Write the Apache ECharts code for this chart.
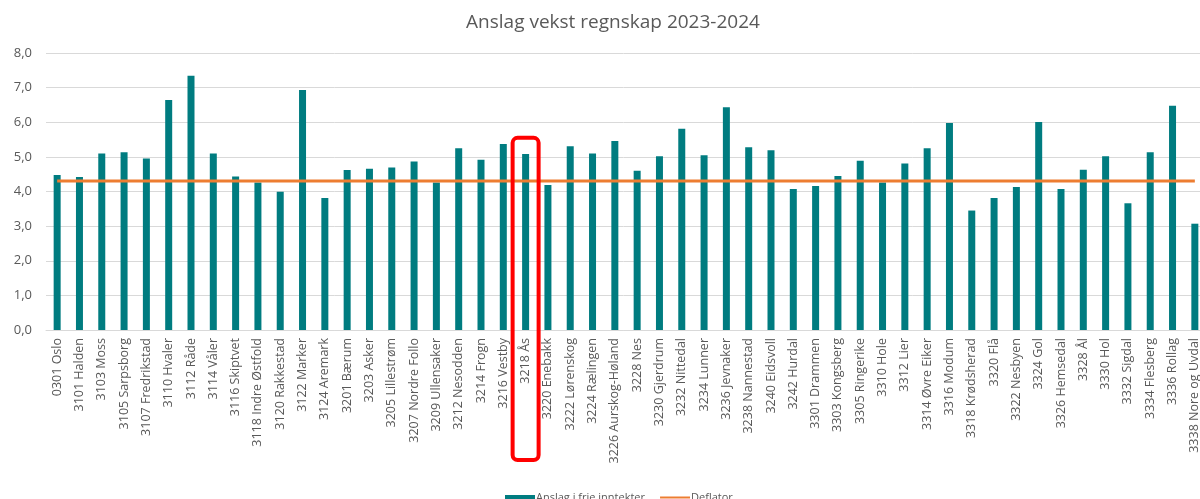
<!DOCTYPE html>
<html>
<head>
<meta charset="utf-8">
<style>
  html, body { margin: 0; padding: 0; background: #fff; }
  #chart { width: 1200px; height: 499px; }
</style>
<script src="https://cdn.jsdelivr.net/npm/echarts@6/dist/echarts.min.js"></script>
</head>
<body>
<div id="chart"></div>
<script>
// Kommuner (x-akse)
const kommuner = [
  '0301 Oslo', '3101 Halden', '3103 Moss', '3105 Sarpsborg', '3107 Fredrikstad',
  '3110 Hvaler', '3112 Råde', '3114 Våler', '3116 Skiptvet', '3118 Indre Østfold',
  '3120 Rakkestad', '3122 Marker', '3124 Aremark', '3201 Bærum', '3203 Asker',
  '3205 Lillestrøm', '3207 Nordre Follo', '3209 Ullensaker', '3212 Nesodden', '3214 Frogn',
  '3216 Vestby', '3218 Ås', '3220 Enebakk', '3222 Lørenskog', '3224 Rælingen',
  '3226 Aurskog-Høland', '3228 Nes', '3230 Gjerdrum', '3232 Nittedal', '3234 Lunner',
  '3236 Jevnaker', '3238 Nannestad', '3240 Eidsvoll', '3242 Hurdal', '3301 Drammen',
  '3303 Kongsberg', '3305 Ringerike', '3310 Hole', '3312 Lier', '3314 Øvre Eiker',
  '3316 Modum', '3318 Krødsherad', '3320 Flå', '3322 Nesbyen', '3324 Gol',
  '3326 Hemsedal', '3328 Ål', '3330 Hol', '3332 Sigdal', '3334 Flesberg',
  '3336 Rollag', '3338 Nore og Uvdal'
];

// Anslag i frie inntekter (%)
const anslag = [
  4.48, 4.42, 5.10, 5.13, 4.95,
  6.64, 7.34, 5.10, 4.43, 4.26,
  3.99, 6.93, 3.81, 4.62, 4.66,
  4.69, 4.87, 4.26, 5.25, 4.92,
  5.37, 5.08, 4.19, 5.31, 5.10,
  5.46, 4.60, 5.02, 5.81, 5.05,
  6.43, 5.28, 5.19, 4.07, 4.16,
  4.45, 4.89, 4.26, 4.81, 5.25,
  5.98, 3.45, 3.81, 4.13, 6.01,
  4.07, 4.63, 5.02, 3.66, 5.13,
  6.48, 3.07
];

// Deflator (%)
const deflator = [
  4.3, 4.3, 4.3, 4.3, 4.3, 4.3, 4.3, 4.3, 4.3, 4.3,
  4.3, 4.3, 4.3, 4.3, 4.3, 4.3, 4.3, 4.3, 4.3, 4.3,
  4.3, 4.3, 4.3, 4.3, 4.3, 4.3, 4.3, 4.3, 4.3, 4.3,
  4.3, 4.3, 4.3, 4.3, 4.3, 4.3, 4.3, 4.3, 4.3, 4.3,
  4.3, 4.3, 4.3, 4.3, 4.3, 4.3, 4.3, 4.3, 4.3, 4.3,
  4.3, 4.3
];

// Kommunen som er markert med rød ramme
const markertKommune = '3218 Ås';

const chartElement = document.getElementById('chart');
const chartInstance = echarts.init(chartElement);

const tekstFarge = '#595959';
const font = 'Open Sans';

const options = {
  animation: false,
  title: {
    text: 'Anslag vekst regnskap 2023-2024',
    left: 608,
    textAlign: 'center',
    top: 8,
    textStyle: {
      fontFamily: font,
      fontSize: 19,
      fontWeight: 'normal',
      color: tekstFarge
    }
  },
  legend: {
    data: [
      { name: 'Anslag i frie inntekter', icon: 'rect' },
      { name: 'Deflator', itemStyle: { opacity: 0 } }
    ],
    left: 500,
    top: 487,
    itemWidth: 30,
    itemHeight: 5,
    itemGap: 14,
    textStyle: {
      fontFamily: font,
      fontSize: 11,
      color: tekstFarge,
      padding: [0, 0, 0, -4]
    }
  },
  grid: {
    left: 46,
    width: 1160,
    top: 53,
    bottom: 169,
    outerBoundsMode: 'none',
    containLabel: false
  },
  xAxis: {
    type: 'category',
    data: kommuner,
    axisTick: { show: false },
    axisLine: { lineStyle: { color: '#d9d9d9', width: 1 } },
    axisLabel: {
      rotate: 90,
      interval: 0,
      margin: 8,
      fontFamily: font,
      fontSize: 12.5,
      color: tekstFarge
    }
  },
  yAxis: {
    type: 'value',
    min: 0,
    max: 8,
    interval: 1,
    axisLine: { show: false },
    axisTick: { show: false },
    splitLine: { lineStyle: { color: '#d9d9d9', width: 1 } },
    axisLabel: {
      margin: 14,
      fontFamily: font,
      fontSize: 13,
      color: tekstFarge,
      formatter: (v) => v.toFixed(1).replace('.', ',')
    }
  },
  series: [
    {
      name: 'Anslag i frie inntekter',
      type: 'bar',
      data: anslag,
      barWidth: 7,
      itemStyle: { color: '#007c80' }
    },
    {
      name: 'Deflator',
      type: 'line',
      data: deflator,
      symbol: 'none',
      lineStyle: { color: '#ed7d31', width: 3 },
      itemStyle: { color: '#ed7d31' }
    }
  ]
};

chartInstance.setOption(options);

// Rød ramme rundt den markerte kommunen
const tegnRamme = () => {
  const midt = chartInstance.convertToPixel({ xAxisIndex: 0 }, markertKommune);
  const topp = chartInstance.convertToPixel({ yAxisIndex: 0 }, 5.55);
  chartInstance.setOption({
    graphic: [{
      type: 'rect',
      shape: { x: midt - 13, y: topp, width: 26, height: 460 - topp, r: 5 },
      style: { fill: 'none', stroke: '#ff0000', lineWidth: 4 },
      z: 100
    }]
  });
};
tegnRamme();

window.addEventListener('resize', () => {
  chartInstance.resize();
  tegnRamme();
});
</script>
</body>
</html>
